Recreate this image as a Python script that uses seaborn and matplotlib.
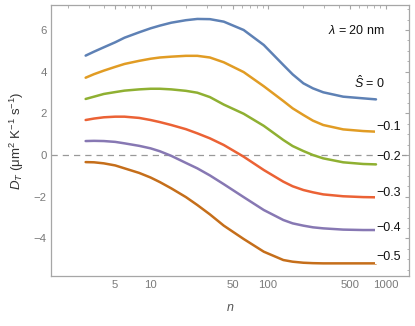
import numpy as np
import pandas as pd
import matplotlib
matplotlib.use("Agg")
import matplotlib.pyplot as plt
import matplotlib.ticker as mticker
import seaborn as sns

# ---- data ----
n_vals = [2.8, 3.3, 4, 5, 6, 8, 10, 12, 15, 20, 25, 32, 42, 62, 92, 135, 162, 200, 241, 295, 436, 645, 830]
s_labels = ["0", "-0.1", "-0.2", "-0.3", "-0.4", "-0.5"]
d_s0 = [4.77, 4.96, 5.17, 5.41, 5.63, 5.89, 6.08, 6.21, 6.35, 6.47, 6.53, 6.52, 6.40, 6.00, 5.28, 4.32, 3.87, 3.44, 3.20, 3.01, 2.80, 2.72, 2.67]
d_s1 = [3.71, 3.88, 4.05, 4.23, 4.37, 4.52, 4.62, 4.68, 4.72, 4.76, 4.76, 4.68, 4.45, 3.98, 3.30, 2.59, 2.24, 1.92, 1.65, 1.44, 1.23, 1.15, 1.12]
d_s2 = [2.69, 2.80, 2.93, 3.02, 3.09, 3.15, 3.18, 3.18, 3.15, 3.08, 2.99, 2.78, 2.42, 1.98, 1.40, 0.72, 0.43, 0.19, 0.00, -0.16, -0.35, -0.43, -0.45]
d_s3 = [1.68, 1.75, 1.81, 1.84, 1.84, 1.78, 1.68, 1.58, 1.44, 1.24, 1.04, 0.80, 0.48, -0.08, -0.72, -1.28, -1.50, -1.68, -1.79, -1.89, -1.98, -2.02, -2.03]
d_s4 = [0.67, 0.68, 0.67, 0.63, 0.56, 0.44, 0.32, 0.18, -0.04, -0.38, -0.64, -0.98, -1.40, -2.02, -2.64, -3.12, -3.28, -3.39, -3.47, -3.52, -3.58, -3.60, -3.60]
d_s5 = [-0.34, -0.35, -0.40, -0.50, -0.64, -0.86, -1.08, -1.30, -1.60, -2.02, -2.40, -2.85, -3.39, -4.03, -4.64, -5.04, -5.12, -5.17, -5.19, -5.20, -5.20, -5.20, -5.20]
series = [d_s0, d_s1, d_s2, d_s3, d_s4, d_s5]
label_texts = ["$\\hat{S}$ = 0", "−0.1", "−0.2", "−0.3", "−0.4", "−0.5"]
label_y = [3.47, 1.36, -0.08, -1.81, -3.52, -4.91]
x_major = [5, 10, 50, 100, 500, 1000]
x_major_labels = ["5", "10", "50", "100", "500", "1000"]

colors = ["#5E81B5", "#E19C24", "#8FB032", "#EB6235", "#8778B3", "#C56E1A"]

df = pd.DataFrame({
    "n": np.tile(n_vals, len(series)),
    "D": np.concatenate(series),
    "S": np.repeat(s_labels, len(n_vals)),
})

sns.set_style("white")
plt.rcParams["font.family"] = ["Liberation Sans", "DejaVu Sans"]
plt.rcParams["mathtext.fontset"] = "custom"
plt.rcParams["mathtext.rm"] = "Liberation Sans"
plt.rcParams["mathtext.it"] = "Liberation Sans:italic"

fig = plt.figure(figsize=(4.15, 3.26), dpi=100)
ax = fig.add_axes([0.1229, 0.1525, 0.9867 - 0.1229, 0.9847 - 0.1525])

ax.axhline(0, color="#999999", lw=0.9, ls=(0, (5, 4)), zorder=1)

sns.lineplot(data=df, x="n", y="D", hue="S", palette=colors, hue_order=s_labels,
             lw=1.8, legend=False, ax=ax, zorder=2)

ax.set_xscale("log")
ax.set_xlim(1.42, 1600)
ax.set_ylim(-5.82, 7.2)

ax.xaxis.set_major_locator(mticker.FixedLocator(x_major))
ax.xaxis.set_major_formatter(mticker.FixedFormatter(x_major_labels))
ax.xaxis.set_minor_locator(mticker.LogLocator(base=10, subs=np.arange(1, 10)))
ax.xaxis.set_minor_formatter(mticker.NullFormatter())
ax.yaxis.set_major_locator(mticker.MultipleLocator(2))
ax.yaxis.set_minor_locator(mticker.MultipleLocator(0.5))
ax.yaxis.set_major_formatter(mticker.FuncFormatter(lambda v, p: ("−" if v < 0 else "") + f"{abs(v):g}"))

frame_c = "#a6a6a6"
for sp in ax.spines.values():
    sp.set_color(frame_c)
    sp.set_linewidth(0.9)
ax.tick_params(which="both", direction="in", top=True, right=True, color=frame_c,
               labelcolor="#7a7a7a", labelsize=8.2)
ax.tick_params(which="major", length=3.2, width=0.8, pad=3)
ax.tick_params(which="minor", length=1.8, width=0.6)

ax.set_xlabel("$n$", color="#555555", fontsize=9, labelpad=8)
ax.set_ylabel("$D_T$ (μm$^2$ K$^{-1}$ s$^{-1}$)", color="#333333", fontsize=9.5, labelpad=6)

ax.text(990, 5.97, "$\\lambda$ = 20 nm", ha="right", va="center", fontsize=9, color="#111111")
for i, (t, yv) in enumerate(zip(label_texts, label_y)):
    if i == 0:
        ax.text(990, yv, t, ha="right", va="center", fontsize=9, color="#111111",
                bbox=dict(fc="white", ec="none", pad=0.5))
    else:
        ax.text(1060, yv, t, ha="center", va="center", fontsize=9, color="#111111",
                bbox=dict(fc="white", ec="none", pad=0.5))

fig.savefig("out.png", dpi=100)
